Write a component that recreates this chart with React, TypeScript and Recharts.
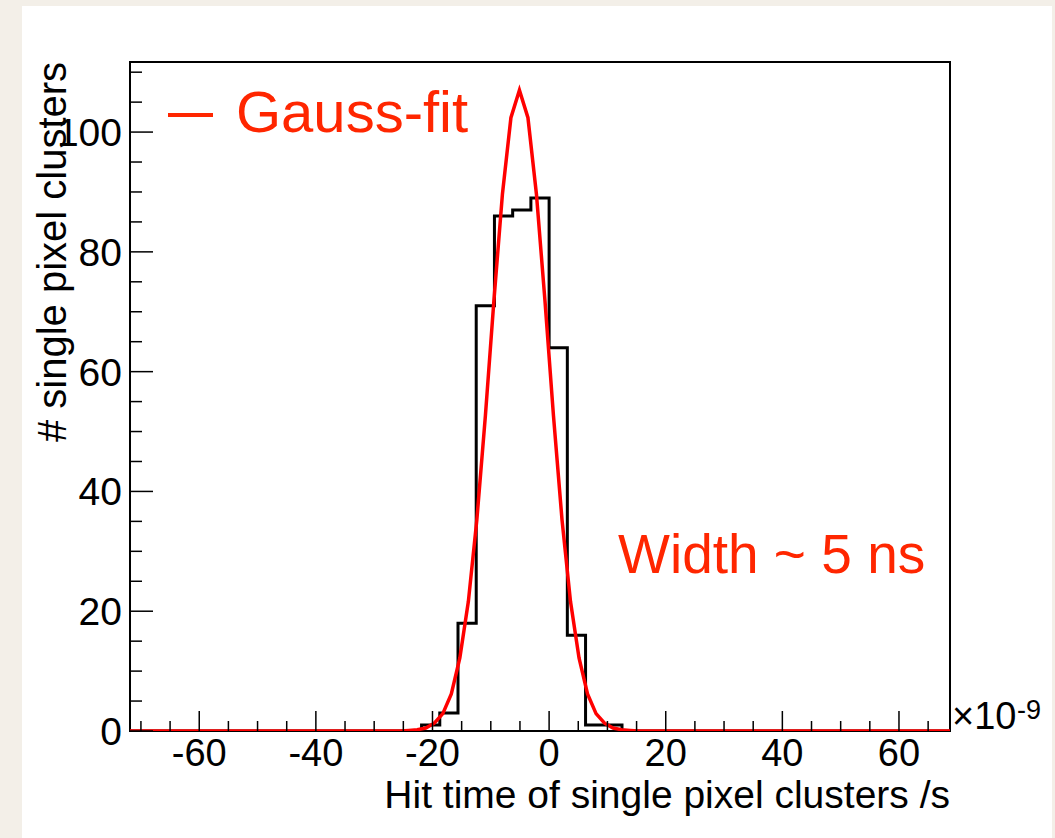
import { ComposedChart, Line, XAxis, YAxis, ReferenceArea } from 'recharts';

// histogram: 45 bins of 3.125 ns over [-71.875, 68.75], only non-empty bins listed
const rangeLow = -71.875;
const rangeHigh = 68.75;
const binStarts = [-21.875, -18.75, -15.625, -12.5, -9.375, -6.25, -3.125, 0, 3.125, 6.25, 9.375];
const binCounts = [1, 3, 18, 71, 86, 87, 89, 64, 16, 1, 1];
const lastBinEnd = 12.5;

// gauss fit curve
const fitTimes = [
  -71.875, -25.53, -24.07, -22.61, -21.15, -19.69, -18.23, -16.77, -15.31, -13.85, -12.39, -10.93,
  -9.47, -8.01, -6.55, -5.09, -3.63, -2.17, -0.71, 0.75, 2.21, 3.67, 5.13, 6.59, 8.05, 9.51,
  10.97, 12.43, 13.89, 15.35, 68.75,
];
const fitCounts = [
  0, 0, 0.1, 0.2, 0.5, 1.3, 2.9, 6.2, 12.2, 21.6, 35.3, 52.6, 71.8, 89.6, 102.4, 107, 102.4, 89.6,
  71.8, 52.6, 35.3, 21.6, 12.2, 6.2, 2.9, 1.3, 0.5, 0.2, 0.1, 0, 0,
];

const yMax = 111.7;
const xTicks = [-70, -65, -60, -55, -50, -45, -40, -35, -30, -25, -20, -15, -10, -5, 0, 5, 10, 15, 20, 25, 30, 35, 40, 45, 50, 55, 60, 65];
const xLabels = [-60, -40, -20, 0, 20, 40, 60];
const yTicks = [0, 5, 10, 15, 20, 25, 30, 35, 40, 45, 50, 55, 60, 65, 70, 75, 80, 85, 90, 95, 100, 105, 110];
const yLabels = [0, 20, 40, 60, 80, 100];

const FONT = '"Liberation Sans", Arial, Helvetica, sans-serif';
const RED = '#ff2600';

const buildData = () => {
  const rows = new Map<number, any>();
  const histTimes = [rangeLow, ...binStarts, lastBinEnd, rangeHigh];
  const histCounts = [0, ...binCounts, 0, 0];
  histTimes.forEach((t, i) => {
    rows.set(t, { ...(rows.get(t) || { t }), hist: histCounts[i] });
  });
  fitTimes.forEach((t, i) => {
    rows.set(t, { ...(rows.get(t) || { t }), fit: fitCounts[i] });
  });
  return Array.from(rows.values()).sort((a, b) => a.t - b.t);
};

const chartData = buildData();

const XTick = (props: any) => {
  const { x, y, payload } = props;
  const major = xLabels.includes(payload.value);
  return (
    <g>
      <line x1={x} x2={x} y1={y} y2={y - (major ? 20 : 10)} stroke="#000" strokeWidth={1.5} />
      {major && (
        <text x={x} y={y + 35} textAnchor="middle" fontSize={38} fontFamily={FONT} fill="#000">
          {payload.value}
        </text>
      )}
    </g>
  );
};

const YTick = (props: any) => {
  const { x, y, payload } = props;
  const major = yLabels.includes(payload.value);
  return (
    <g>
      <line x1={x} x2={x + (major ? 23 : 12)} y1={y} y2={y} stroke="#000" strokeWidth={1.5} />
      {major && (
        <text x={x - 8} y={y + 14} textAnchor="end" fontSize={39} fontFamily={FONT} fill="#000">
          {payload.value}
        </text>
      )}
    </g>
  );
};

export default function App() {
  return (
    <div style={{ position: 'absolute', left: 0, top: 0, width: 1055, height: 838, background: '#f3efe8' }}>
      <div style={{ position: 'absolute', left: 22, top: 6, width: 1030, height: 832, background: '#fff' }} />
      <div style={{ position: 'absolute', left: 0, top: 0 }}>
        <ComposedChart
          width={1055}
          height={838}
          data={chartData}
          margin={{ top: 62, right: 105, bottom: 67, left: 90 }}
        >
          <XAxis
            type="number"
            dataKey="t"
            domain={[rangeLow, rangeHigh]}
            ticks={xTicks}
            interval={0}
            tick={<XTick />}
            tickSize={0}
            tickMargin={0}
            tickLine={false}
            axisLine={false}
            height={40}
            allowDataOverflow
          />
          <YAxis
            type="number"
            domain={[0, yMax]}
            ticks={yTicks}
            interval={0}
            tick={<YTick />}
            tickSize={0}
            tickMargin={0}
            tickLine={false}
            axisLine={false}
            width={40}
            allowDataOverflow
          />
          <ReferenceArea
            x1={rangeLow}
            x2={rangeHigh}
            y1={0}
            y2={yMax}
            fill="none"
            fillOpacity={0}
            stroke="#000"
            strokeWidth={2}
          />
          <Line
            type="stepAfter"
            dataKey="hist"
            stroke="#000"
            strokeWidth={3}
            dot={false}
            connectNulls
            isAnimationActive={false}
          />
          <Line
            type="linear"
            dataKey="fit"
            stroke="#ff0000"
            strokeWidth={3.5}
            dot={false}
            connectNulls
            isAnimationActive={false}
          />
        </ComposedChart>
      </div>
      <svg
        width={1055}
        height={838}
        style={{ position: 'absolute', left: 0, top: 0, pointerEvents: 'none' }}
        fontFamily={FONT}
      >
        <line x1={168} x2={213} y1={115} y2={115} stroke={RED} strokeWidth={4} />
        <text x={236} y={132} fontSize={58} fill={RED}>Gauss-fit</text>
        <text x={618} y={573} fontSize={55} fill={RED}>Width ~ 5 ns</text>
        <text x={952} y={729} fontSize={38} fill="#000">×10</text>
        <text x={1017} y={719} fontSize={27} fill="#000">-9</text>
        <text x={950} y={808} fontSize={39} textAnchor="end" fill="#000">
          Hit time of single pixel clusters /s
        </text>
        <text x={66} y={252} fontSize={40} textAnchor="middle" fill="#000" transform="rotate(-90 66 252)">
          # single pixel clusters
        </text>
      </svg>
    </div>
  );
}
